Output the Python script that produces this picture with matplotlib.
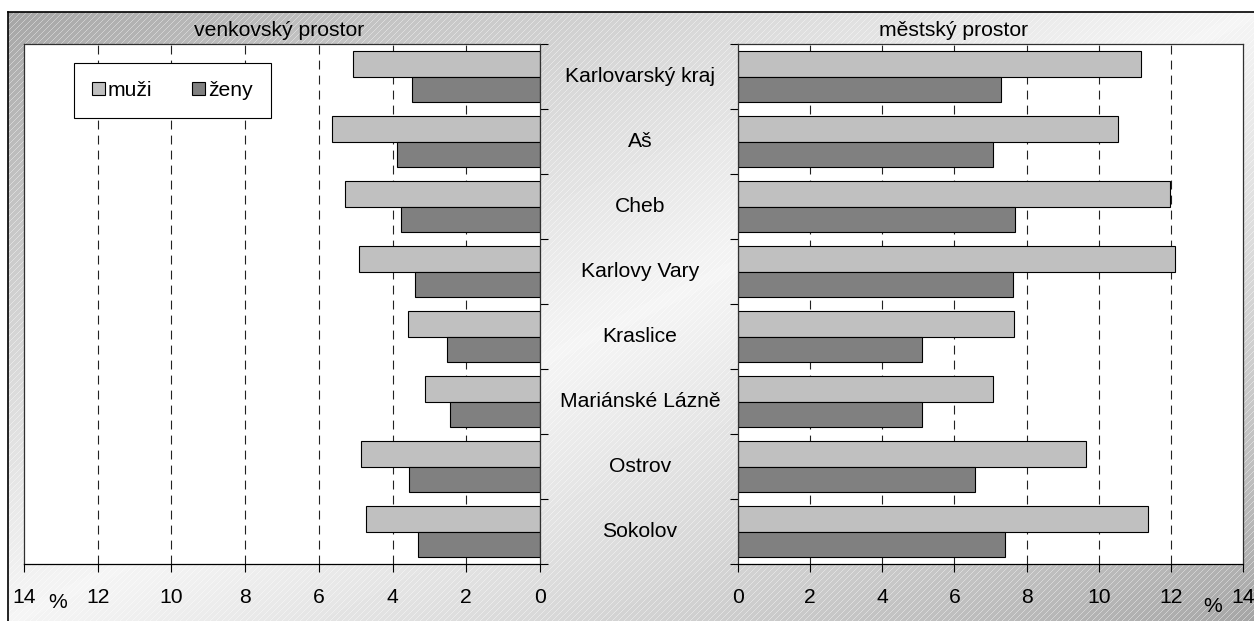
import numpy as np
import matplotlib
matplotlib.use("Agg")
import matplotlib.pyplot as plt
from matplotlib.transforms import blended_transform_factory

categories = ["Karlovarský kraj", "Aš", "Cheb", "Karlovy Vary",
              "Kraslice", "Mariánské Lázně", "Ostrov", "Sokolov"]

rural_men = [5.07, 5.64, 5.30, 4.92, 3.57, 3.13, 4.85, 4.71]
rural_women = [3.47, 3.88, 3.77, 3.39, 2.51, 2.45, 3.55, 3.32]
urban_men = [11.17, 10.54, 11.97, 12.11, 7.64, 7.07, 9.66, 11.38]
urban_women = [7.28, 7.08, 7.68, 7.63, 5.10, 5.09, 6.58, 7.41]

x_ticks = [0, 2, 4, 6, 8, 10, 12, 14]
series_labels = ["muži", "ženy"]

W, H = 1254, 621
FS = 15.2
MEN_COLOR = "#c0c0c0"
WOMEN_COLOR = "#808080"

plt.rcParams["font.family"] = ["Liberation Sans", "DejaVu Sans"]
plt.rcParams["font.size"] = FS


def px(x0, y0, x1, y1):
    """Figure rect from pixel box (y measured from top)."""
    return [x0 / W, 1 - y1 / H, (x1 - x0) / W, (y1 - y0) / H]


def background(fig):
    bg = fig.add_axes(px(8, 12, W, H), zorder=-1)
    h, w = H - 12, W - 8
    yy, xx = np.mgrid[0:h, 0:w]
    t = (xx / w + yy / h) / 2
    light = 1 - np.abs(2 * t - 1)
    img = 0.64 + 0.32 * light ** 0.8
    # fine diagonal hatch
    lines = ((xx + yy) % 6) == 0
    img = np.where(lines, img + (1 - img) * 0.4, img)
    bg.imshow(img, cmap="gray", vmin=0, vmax=1, aspect="auto",
              interpolation="nearest")
    bg.set_xticks([])
    bg.set_yticks([])
    for side in ["right", "bottom"]:
        bg.spines[side].set_visible(False)
    bg.spines["left"].set_linewidth(1.2)
    bg.spines["top"].set_linewidth(1.2)


def draw_panel(ax, men, women, side):
    y = np.arange(len(categories))
    h = 0.385
    ax.barh(y - h / 2, men, height=h, color=MEN_COLOR, edgecolor="black",
            linewidth=0.8, label=series_labels[0], zorder=2)
    ax.barh(y + h / 2, women, height=h, color=WOMEN_COLOR, edgecolor="black",
            linewidth=0.8, label=series_labels[1], zorder=2)

    ax.set_ylim(len(categories) - 0.5, -0.5)
    ax.set_yticks(np.arange(len(categories) + 1) - 0.5)
    ax.set_yticklabels([])
    ax.set_xticks(x_ticks)
    ax.set_xticklabels([str(v) for v in x_ticks])

    if side == "left":
        ax.set_xlim(14, 0)
        ax.yaxis.tick_right()
    else:
        ax.set_xlim(0, 14)
        ax.yaxis.tick_left()

    for g in x_ticks[1:-1]:
        ax.axvline(g, color="#222222", linewidth=0.8,
                   linestyle=(0, (8, 5.5)), zorder=1)

    ax.tick_params(axis="y", direction="out", length=6, width=0.8)
    ax.tick_params(axis="x", direction="out", length=6, width=0.8,
                   pad=11, labelsize=FS)
    for s in ax.spines.values():
        s.set_linewidth(0.9)
        s.set_color("#303030")
    ax.spines["bottom"].set_color("black")
    ax.set_facecolor("white")


fig = plt.figure(figsize=(W / 100, H / 100), dpi=100)
background(fig)

ax_l = fig.add_axes(px(24, 44, 540, 564), zorder=1)
ax_r = fig.add_axes(px(738, 44, 1243, 564), zorder=1)

draw_panel(ax_l, rural_men, rural_women, "left")
draw_panel(ax_r, urban_men, urban_women, "right")

fig.text(279 / W, 1 - 30 / H, "venkovský prostor", ha="center", va="center",
         fontsize=FS)
fig.text(954 / W, 1 - 30 / H, "městský prostor", ha="center", va="center",
         fontsize=FS)

trans = blended_transform_factory(fig.transFigure, ax_r.transData)
for i, name in enumerate(categories):
    ax_r.text(640 / W, i, name, transform=trans, ha="center", va="center",
              fontsize=FS, clip_on=False)

fig.text(58 / W, 1 - 602 / H, "%", ha="center", va="center", fontsize=FS)
fig.text(1213 / W, 1 - 606 / H, "%", ha="center", va="center", fontsize=FS)

leg = ax_l.legend(loc="upper left", bbox_to_anchor=(74 / W, 1 - 63 / H),
                  bbox_transform=fig.transFigure, ncol=2, frameon=True,
                  fancybox=False, edgecolor="black", framealpha=1,
                  handlelength=0.6, handleheight=0.6, handletextpad=0.15,
                  columnspacing=1.9, borderpad=0.85, borderaxespad=0,
                  fontsize=FS)
leg.get_frame().set_linewidth(0.8)
leg.set_zorder(5)

fig.savefig("out.png", dpi=100)
